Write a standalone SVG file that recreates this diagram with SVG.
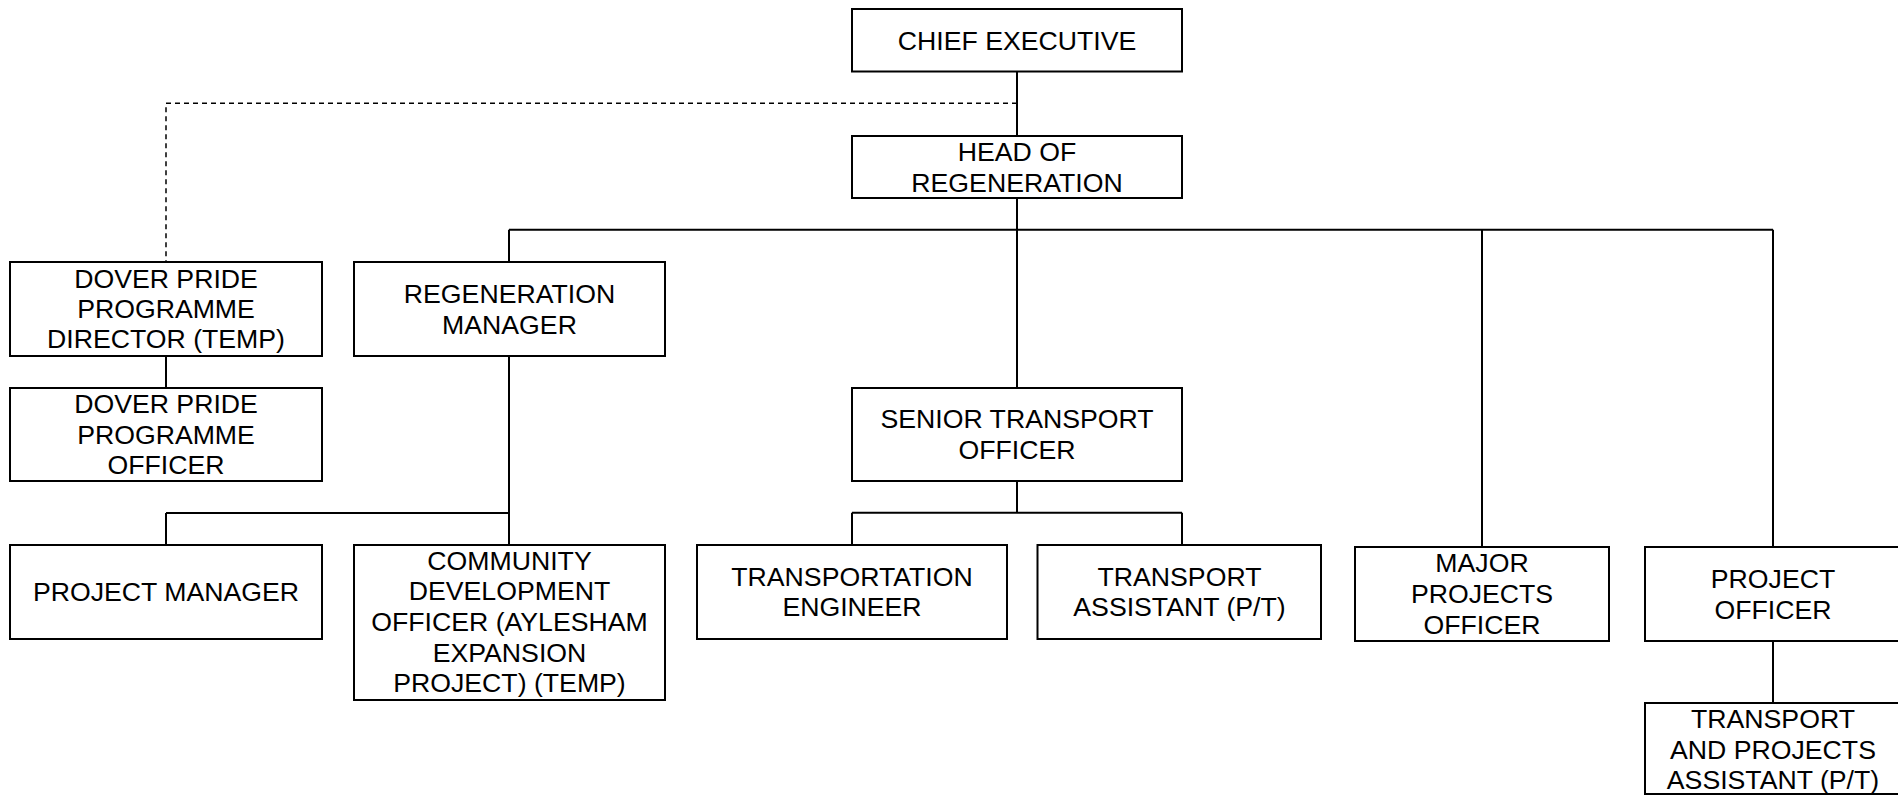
<svg xmlns="http://www.w3.org/2000/svg" width="1898" height="795" viewBox="0 0 1898 795">
<style>
.box{fill:#fff;stroke:#000;stroke-width:2}
.ln{fill:none;stroke:#000;stroke-width:2}
.dash{fill:none;stroke:#000;stroke-width:1.5;stroke-dasharray:5 4}
text{font-family:"Liberation Sans",Arial,sans-serif;font-size:26.67px;fill:#000;text-anchor:middle}
</style>
<rect width="1898" height="795" fill="#fff"/>
<g id="connectors">
<path class="dash" d="M1017 103.3H166V262"/>
<path class="ln" d="M1017 71.5V136M1017 198V388M509 229.7H1773M509 229.7V262M1482 229.7V547M1773 229.7V547"/>
<path class="ln" d="M166 356V388M509 356V545M166 513H509M166 513V545"/>
<path class="ln" d="M1017 481V512.7M852 512.7H1182M852 512.7V545M1182 512.7V545"/>
<path class="ln" d="M1773 641V703"/>
</g>
<g id="chief"><rect class="box" x="852" y="9" width="330" height="62.5"/><text x="1017" y="49.5">CHIEF EXECUTIVE</text></g>
<g id="head"><rect class="box" x="852" y="136" width="330" height="62"/><text x="1017" y="161">HEAD OF</text><text x="1017" y="191.7">REGENERATION</text></g>
<g id="dover-director"><rect class="box" x="10" y="262" width="312" height="94"/><text x="166" y="288">DOVER PRIDE</text><text x="166" y="318.2">PROGRAMME</text><text x="166" y="348.4">DIRECTOR (TEMP)</text></g>
<g id="regen-manager"><rect class="box" x="354" y="262" width="311" height="94"/><text x="509.5" y="303">REGENERATION</text><text x="509.5" y="333.5">MANAGER</text></g>
<g id="dover-officer"><rect class="box" x="10" y="388" width="312" height="93"/><text x="166" y="413.3">DOVER PRIDE</text><text x="166" y="443.5">PROGRAMME</text><text x="166" y="473.5">OFFICER</text></g>
<g id="senior-transport"><rect class="box" x="852" y="388" width="330" height="93"/><text x="1017" y="428">SENIOR TRANSPORT</text><text x="1017" y="458.6">OFFICER</text></g>
<g id="project-manager"><rect class="box" x="10" y="545" width="312" height="94"/><text x="166" y="601">PROJECT MANAGER</text></g>
<g id="community"><rect class="box" x="354" y="545" width="311" height="155"/><text x="509.5" y="569.5">COMMUNITY</text><text x="509.5" y="600.3">DEVELOPMENT</text><text x="509.5" y="631">OFFICER (AYLESHAM</text><text x="509.5" y="661.6">EXPANSION</text><text x="509.5" y="692.3">PROJECT) (TEMP)</text></g>
<g id="transportation-engineer"><rect class="box" x="697" y="545" width="310" height="94"/><text x="852" y="585.5">TRANSPORTATION</text><text x="852" y="616">ENGINEER</text></g>
<g id="transport-assistant"><rect class="box" x="1037.5" y="545" width="283.5" height="94"/><text x="1179.5" y="585.5">TRANSPORT</text><text x="1179.5" y="616">ASSISTANT (P/T)</text></g>
<g id="major-projects"><rect class="box" x="1355" y="547" width="254" height="94"/><text x="1482" y="572">MAJOR</text><text x="1482" y="603">PROJECTS</text><text x="1482" y="634">OFFICER</text></g>
<g id="project-officer"><rect class="box" x="1645" y="547" width="256" height="94"/><text x="1773" y="588">PROJECT</text><text x="1773" y="618.7">OFFICER</text></g>
<g id="transport-projects-assistant"><rect class="box" x="1645" y="703" width="256" height="91"/><text x="1773" y="727.5">TRANSPORT</text><text x="1773" y="758.5">AND PROJECTS</text><text x="1773" y="789">ASSISTANT (P/T)</text></g>
</svg>
